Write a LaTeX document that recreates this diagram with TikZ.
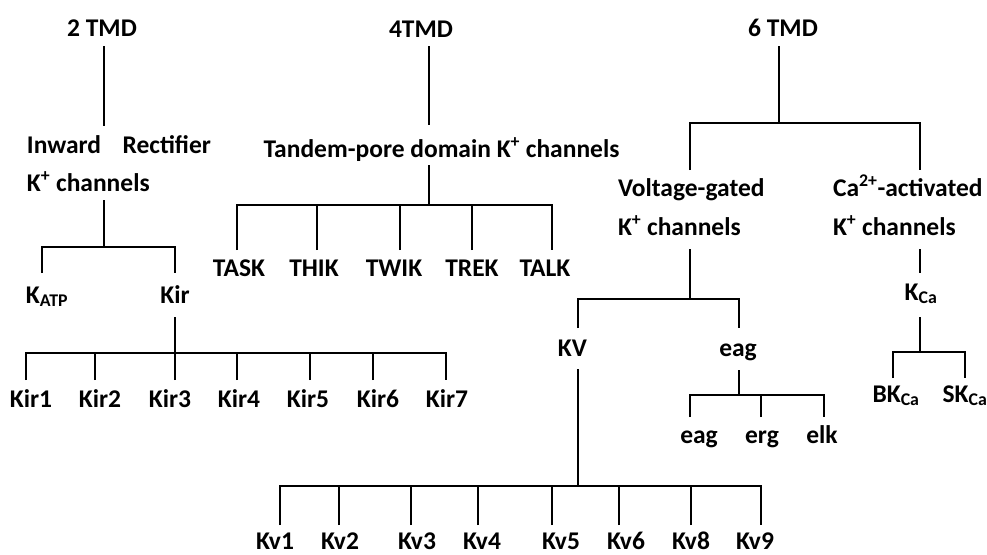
\documentclass[tikz,border=0pt]{standalone}
\usepackage{fontspec}
\setmainfont{Carlito}
\begin{document}
\begin{tikzpicture}[x=1pt,y=-1pt,
  lbl/.style={font=\bfseries\fontsize{25.5}{30}\selectfont, inner sep=0pt, outer sep=0pt, text height=16.5pt, text depth=0pt, anchor=base},
  hdr/.style={lbl},
  conn/.style={draw=black, line width=1.8pt}]
\useasboundingbox (0,0) rectangle (987,554);
\fill[white] (0,0) rectangle (987,554);

% ---------- headers ----------
\node[hdr] (tmd2) at (102,36) {2 TMD};
\node[hdr] (tmd4) at (421,37) {4TMD};
\node[hdr] (tmd6) at (783,36) {6 TMD};

% ---------- 2 TMD branch ----------
\node[lbl, anchor=base west] (ir1) at (27,153) {\makebox[184pt][l]{Inward\hfill Rectifier}};
\node[lbl, anchor=base west] (ir2) at (27,191) {K\textsuperscript{+} channels};
\node[lbl] (katp) at (47,303) {K\textsubscript{ATP}};
\node[lbl] (kir) at (175,303) {Kir};
\foreach \n/\x in {1/31,2/100,3/170,4/239,5/308,6/378,7/447}{
  \node[lbl] (kir\n) at (\x,407) {Kir\n};
}

% ---------- 4 TMD branch ----------
\node[lbl] (tp) at (441.5,157) {Tandem-pore domain K\textsuperscript{+} channels};
\node[lbl] (task) at (239,276) {TASK};
\node[lbl] (thik) at (314,276) {THIK};
\node[lbl] (twik) at (394,276) {TWIK};
\node[lbl] (trek) at (472,276) {TREK};
\node[lbl] (talk) at (545,276) {TALK};

% ---------- 6 TMD branch ----------
\node[lbl, anchor=base west] (vg1) at (618,196) {Voltage-gated};
\node[lbl, anchor=base west] (vg2) at (618,235) {K\textsuperscript{+} channels};
\node[lbl, anchor=base west] (ca1) at (833,196) {Ca\textsuperscript{2+}-activated};
\node[lbl, anchor=base west] (ca2) at (833,235) {K\textsuperscript{+} channels};
\node[lbl] (kca) at (921,300) {K\textsubscript{Ca}};
\node[lbl] (bkca) at (896,402) {BK\textsubscript{Ca}};
\node[lbl] (skca) at (965,402) {SK\textsubscript{Ca}};
\node[lbl] (kv) at (572.5,356) {KV};
\node[lbl] (eag) at (738,356) {eag};
\node[lbl] (eag1) at (699,443) {eag};
\node[lbl] (erg) at (762,443) {erg};
\node[lbl] (elk) at (822,443) {elk};
\foreach \n/\x in {1/275,2/340,3/417,4/482,5/561,6/626,8/691,9/755}{
  \node[lbl] (kv\n) at (\x,549.5) {Kv\n};
}

% ---------- junction coordinates ----------
\coordinate (irbar) at (104,247);
\coordinate (kirbar) at (175,353);
\coordinate (tpbar) at (429,205);
\coordinate (t6bar) at (779,123);
\coordinate (vgbar) at (690,299);
\coordinate (kcabar) at (920,352);
\coordinate (eagbar) at (739,395);
\coordinate (kvbar) at (578,486);

% ---------- connectors: 2 TMD ----------
\draw[conn] ([xshift=2pt,yshift=-10pt]tmd2.south) -- ([xshift=77pt,yshift=27pt]ir1.base west);
\draw[conn] ([xshift=77pt,yshift=-9pt]ir2.base west) -- (irbar);
\draw[conn] ([xshift=-5pt,yshift=13.5pt]katp.north) |- (irbar) -| ([yshift=13.5pt]kir.north);
\draw[conn] ([yshift=-14pt]kir.south) -- (kirbar);
\foreach \n/\dx in {kir1/-5,kir2/-5,kir3/5,kir4/-2,kir5/2,kir6/-5,kir7/-1}{
  \coordinate (s-\n) at ([xshift=\dx pt,yshift=10.5pt]\n.north);
}
\draw[conn] (s-kir1) |- (kirbar) -| (s-kir7);
\foreach \n in {kir2,kir3,kir4,kir5,kir6}{
  \draw[conn] (s-\n) -- (s-\n |- kirbar);
}

% ---------- connectors: 4 TMD ----------
\coordinate (t4) at ([xshift=8pt,yshift=-9pt]tmd4.south);
\coordinate (tptop) at ([yshift=15.5pt]tp.north);
\draw[conn] (t4) -- (t4 |- tptop);
\draw[conn] ([xshift=-12.5pt,yshift=-8pt]tp.south) -- (tpbar);
\foreach \n/\dx in {task/-2,thik/3,twik/6,trek/0,talk/7}{
  \coordinate (s-\n) at ([xshift=\dx pt,yshift=9.5pt]\n.north);
}
\draw[conn] (s-task) |- (tpbar) -| (s-talk);
\foreach \n in {thik,twik,trek}{
  \draw[conn] (s-\n) -- (s-\n |- tpbar);
}

% ---------- connectors: 6 TMD ----------
\draw[conn] ([xshift=-4pt,yshift=-10pt]tmd6.south) -- (t6bar);
\draw[conn] ([xshift=72pt,yshift=26pt]vg1.base west) |- (t6bar) -| ([xshift=87pt,yshift=26pt]ca1.base west);
\draw[conn] ([xshift=72pt,yshift=-14pt]vg2.base west) -- (vgbar);
\draw[conn] ([xshift=5.5pt,yshift=11.5pt]kv.north) |- (vgbar) -| ([xshift=1pt,yshift=11.5pt]eag.north);
\draw[conn] ([xshift=87pt,yshift=-14pt]ca2.base west) -- ([xshift=-1pt,yshift=10.5pt]kca.north);
\draw[conn] ([xshift=-1pt,yshift=-17pt]kca.south) -- (kcabar);
\draw[conn] ([xshift=-3pt,yshift=7.5pt]bkca.north) |- (kcabar) -| ([yshift=7.5pt]skca.north);
\draw[conn] ([xshift=1pt,yshift=-14pt]eag.south) -- (eagbar);
\foreach \n/\dx in {eag1/-9,erg/-1,elk/2}{
  \coordinate (s-\n) at ([xshift=\dx pt,yshift=9.5pt]\n.north);
}
\draw[conn] (s-eag1) |- (eagbar) -| (s-elk);
\draw[conn] (s-erg) -- (s-erg |- eagbar);
\draw[conn] ([xshift=5.5pt,yshift=-13pt]kv.south) -- (kvbar);
\foreach \n/\dx in {kv1/5,kv2/-1,kv3/-6,kv4/-4,kv5/-9,kv6/-7,kv8/0,kv9/6}{
  \coordinate (s-\n) at ([xshift=\dx pt,yshift=8pt]\n.north);
}
\draw[conn] (s-kv1) |- (kvbar) -| (s-kv9);
\foreach \n in {kv2,kv3,kv4,kv5,kv6,kv8}{
  \draw[conn] (s-\n) -- (s-\n |- kvbar);
}
\end{tikzpicture}
\end{document}
